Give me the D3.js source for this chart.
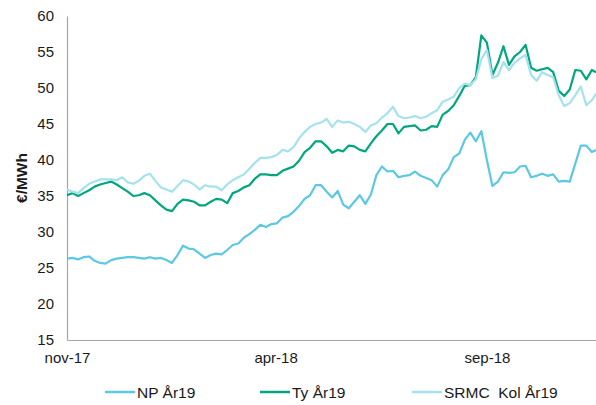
<!DOCTYPE html>
<html>
<head>
<meta charset="utf-8">
<script src="https://cdn.jsdelivr.net/npm/d3@7"></script>
<style>
  html, body { margin: 0; padding: 0; background: #fff; }
  svg { display: block; font-family: "Liberation Sans", Arial, sans-serif; }
</style>
</head>
<body>
<svg id="chart" width="596" height="405"></svg>
<script>
// ---- data ----
const dates = ["2017-11-01","2017-11-05","2017-11-09","2017-11-13","2017-11-17","2017-11-21","2017-11-25","2017-11-29",
"2017-12-03","2017-12-07","2017-12-11","2017-12-15","2017-12-19","2017-12-23","2017-12-27","2017-12-31",
"2018-01-04","2018-01-08","2018-01-12","2018-01-16","2018-01-20","2018-01-24","2018-01-28",
"2018-02-01","2018-02-05","2018-02-09","2018-02-13","2018-02-17","2018-02-21","2018-02-25",
"2018-03-01","2018-03-05","2018-03-09","2018-03-13","2018-03-17","2018-03-21","2018-03-25","2018-03-29",
"2018-04-02","2018-04-06","2018-04-10","2018-04-14","2018-04-18","2018-04-22","2018-04-26","2018-04-30",
"2018-05-04","2018-05-08","2018-05-12","2018-05-16","2018-05-20","2018-05-24","2018-05-28",
"2018-06-01","2018-06-05","2018-06-09","2018-06-13","2018-06-17","2018-06-21","2018-06-25","2018-06-29",
"2018-07-03","2018-07-07","2018-07-11","2018-07-15","2018-07-19","2018-07-23","2018-07-27","2018-07-31",
"2018-08-04","2018-08-08","2018-08-12","2018-08-16","2018-08-20","2018-08-24","2018-08-28",
"2018-09-01","2018-09-05","2018-09-09","2018-09-13","2018-09-17","2018-09-21","2018-09-25","2018-09-29",
"2018-10-03","2018-10-07","2018-10-11","2018-10-15","2018-10-19","2018-10-23","2018-10-27","2018-10-31",
"2018-11-04","2018-11-08","2018-11-12","2018-11-16","2018-11-19"];

const npAr19 = [26.3,26.4,26.2,26.5,26.6,26.0,25.7,25.6,26.1,26.3,
26.4,26.5,26.5,26.4,26.3,26.5,26.3,26.4,26.1,25.7,
26.8,28.1,27.7,27.6,27.0,26.4,26.8,27.0,26.9,27.5,
28.2,28.4,29.2,29.7,30.3,31.0,30.7,31.1,31.2,32.0,
32.2,32.8,33.6,34.6,35.1,36.5,36.5,35.6,34.8,35.7,
33.8,33.3,34.2,35.1,33.9,35.2,37.9,39.1,38.4,38.5,
37.6,37.8,37.9,38.4,37.8,37.5,37.2,36.3,37.9,38.7,
40.4,40.9,42.8,43.8,42.6,44.0,40.0,36.4,37.0,38.3,
38.2,38.3,39.1,39.2,37.6,37.8,38.1,37.8,38.0,37.0,
37.1,37.0,39.5,42.0,42.0,41.1,41.4];

const tyAr19 = [35.1,35.4,35.0,35.4,35.8,36.3,36.6,36.8,37.0,36.6,
36.1,35.6,35.0,35.1,35.4,35.1,34.4,33.7,33.1,32.9,
33.9,34.5,34.4,34.2,33.7,33.7,34.2,34.6,34.5,34.0,
35.4,35.7,36.2,36.5,37.4,38.0,38.0,37.9,37.9,38.5,
38.8,39.1,39.9,41.1,41.7,42.6,42.6,41.9,41.0,41.4,
41.2,42.0,41.9,41.4,41.2,42.3,43.3,44.1,45.0,45.0,
43.7,44.6,44.7,44.8,44.1,44.2,44.7,44.6,46.3,46.8,
47.6,48.9,50.3,50.4,51.5,57.3,56.3,51.8,53.5,55.8,
53.2,54.4,55.0,56.0,52.8,52.4,52.6,52.8,52.2,49.6,
48.9,49.8,52.5,52.4,51.2,52.5,52.2];

const srmcKolAr19 = [35.9,35.6,35.4,36.1,36.7,37.0,37.3,37.3,37.3,37.2,
37.6,36.9,36.7,37.1,37.8,38.1,37.1,36.2,35.9,35.6,
36.4,37.2,37.0,36.6,35.9,36.5,36.3,36.3,35.8,36.6,
37.2,37.6,38.0,38.8,39.6,40.3,40.3,40.4,40.7,41.4,
41.2,41.8,43.0,43.9,44.6,45.0,45.2,45.7,44.6,45.5,
45.2,45.3,45.0,44.6,43.9,44.8,45.1,45.9,46.5,47.4,
46.1,45.8,45.9,46.1,45.8,46.0,46.5,46.9,48.1,48.4,
48.8,50.0,50.6,50.4,51.2,54.0,55.3,51.4,51.7,53.6,
52.5,53.5,54.1,54.6,51.8,51.0,52.2,51.8,51.5,49.0,
47.5,47.9,49.0,50.2,47.6,48.3,49.2];

const seriesNames = ["NP År19", "Ty År19", "SRMC  Kol År19"];
const xTickDates = ["2017-11-01", "2018-04-01", "2018-09-01"];
const xTickLabels = ["nov-17", "apr-18", "sep-18"];
const yTicks = [15, 20, 25, 30, 35, 40, 45, 50, 55, 60];
const yTitle = "€/MWh";

// ---- chart ----
(function () {
  const parse = d3.utcParse("%Y-%m-%d");
  const svg = d3.select("#chart");
  const mLeft = 67, mRight = 596, mTop = 16, mBottom = 340;

  const x = d3.scaleUtc()
    .domain([parse(dates[0]), parse(dates[dates.length - 1])])
    .range([mLeft, mRight]);
  const y = d3.scaleLinear().domain([15, 60]).range([mBottom, mTop]);

  const colors = ["#5cc8e3", "#00a67e", "#a6e1ee"];
  const seriesData = [npAr19, tyAr19, srmcKolAr19];

  // Y axis
  const yAxis = svg.append("g").attr("transform", `translate(${mLeft},0)`)
    .call(d3.axisLeft(y).tickValues(yTicks).tickSize(0).tickPadding(13).tickFormat(d3.format("d")));
  yAxis.select(".domain").attr("stroke", "#a6a6a6").attr("stroke-width", 1.2);
  yAxis.selectAll("text").attr("font-size", 15).attr("fill", "#1a1a1a")
    .attr("font-family", "'Liberation Sans', Arial, sans-serif");

  // X axis
  const xAxis = svg.append("g").attr("transform", `translate(0,${mBottom})`)
    .call(d3.axisBottom(x).tickValues(xTickDates.map(parse)).tickSize(0).tickPadding(12)
      .tickFormat((d, i) => xTickLabels[i]));
  xAxis.select(".domain").attr("stroke", "#a6a6a6").attr("stroke-width", 1.2);
  xAxis.selectAll("text").attr("font-size", 15).attr("fill", "#1a1a1a")
    .attr("font-family", "'Liberation Sans', Arial, sans-serif");

  // Y title
  svg.append("text")
    .attr("transform", `translate(21,${(mTop + mBottom) / 2}) rotate(-90)`)
    .attr("text-anchor", "middle")
    .attr("dominant-baseline", "central")
    .attr("font-size", 15.5).attr("font-weight", "bold").attr("fill", "#1a1a1a")
    .text(yTitle);

  // Lines
  const line = d3.line()
    .x((d, i) => x(parse(dates[i])))
    .y(d => y(d));

  seriesData.forEach((vals, si) => {
    svg.append("path")
      .datum(vals)
      .attr("fill", "none")
      .attr("stroke", colors[si])
      .attr("stroke-width", 2.2)
      .attr("stroke-linejoin", "round")
      .attr("d", line);
  });

  // Legend
  const legendX = [105, 260, 412];
  const legendY = 392;
  seriesNames.forEach((name, i) => {
    const g = svg.append("g").attr("transform", `translate(${legendX[i]},${legendY})`);
    g.append("line").attr("x1", 0).attr("x2", 30).attr("y1", 0).attr("y2", 0)
      .attr("stroke", colors[i]).attr("stroke-width", 2.5);
    g.append("text").attr("x", 32).attr("y", 0).attr("dy", "0.36em")
      .attr("font-size", 15.5).attr("fill", "#1a1a1a")
      .style("white-space", "pre")
      .text(name);
  });
})();
</script>
</body>
</html>
